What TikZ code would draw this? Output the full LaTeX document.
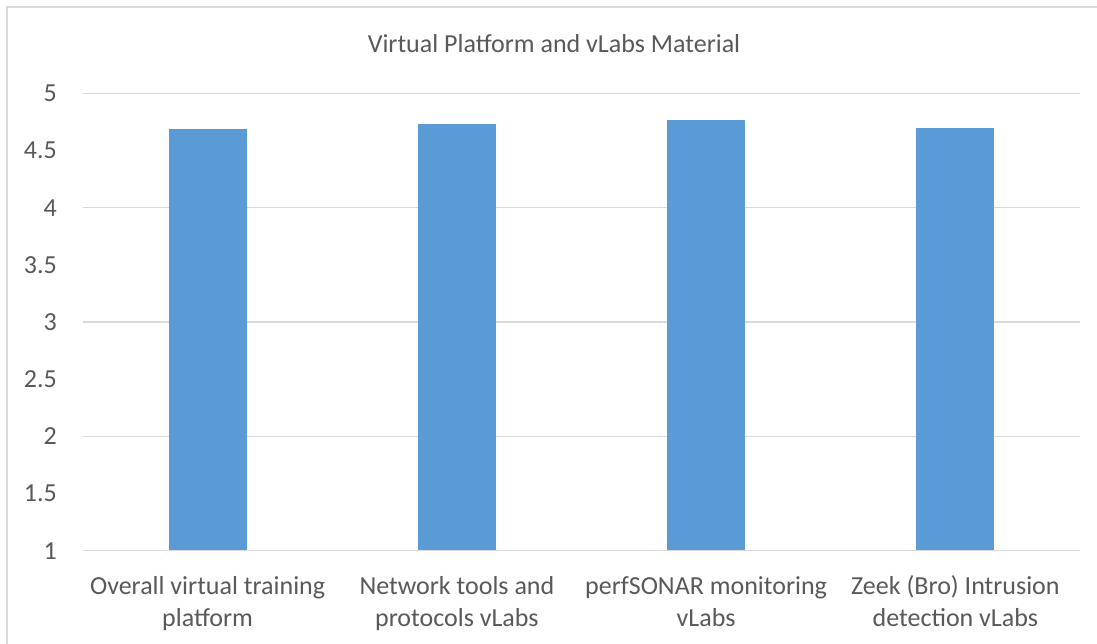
\documentclass[tikz,border=0pt]{standalone}
\usepackage{fontspec}
\setmainfont{Carlito}
\definecolor{barblue}{HTML}{5B9BD5}
\definecolor{gridgray}{HTML}{D9D9D9}
\definecolor{txtgray}{HTML}{595959}
\tikzset{
  gridline/.style={draw=gridgray, line width=1.4pt},
  framel/.style={draw=gridgray, line width=1.2pt},
  barfill/.style={fill=barblue},
  ylab/.style={anchor=base east, inner sep=0pt, text=txtgray, font=\fontsize{26}{31.5}\selectfont},
  xlab/.style={anchor=base, inner sep=0pt, align=center, text=txtgray, font=\fontsize{26}{31.5}\selectfont},
  ttl/.style={anchor=base, inner sep=0pt, text=txtgray, font=\fontsize{26}{31.5}\selectfont}
}
\begin{document}
\begin{tikzpicture}[x=1pt,y=-1pt]
\useasboundingbox (0,0) rectangle (1097,644);
\fill[white] (0,0) rectangle (1097,644);
% frame (left and top visible)
\coordinate (fb) at (7,644);
\coordinate (ft) at (7,7);
\coordinate (fr) at (1097,7);
\draw[framel] (fb) -- (ft) -- (fr);
% title
\node[ttl] (title) at (554,53) {Virtual Platform and vLabs Material};
% gridlines and y labels
\foreach \v/\lab in {1/1,1.5/1.5,2/2,2.5/2.5,3/3,3.5/3.5,4/4,4.5/4.5,5/5}{
  \pgfmathsetmacro{\yy}{550.7-(\v-1)*114.35}
  \coordinate (gl\lab) at (83,\yy);
  \coordinate (gr\lab) at (1080,\yy);
  \draw[gridline] (gl\lab) -- (gr\lab);
  \node[ylab] (yl\lab) at (57,\yy+8.4) {\lab};
}
% bars
\foreach \i/\c/\val in {1/207.6/4.685,2/456.9/4.73,3/706.1/4.764,4/955.4/4.70}{
  \pgfmathsetmacro{\top}{550.7-(\val-1)*114.35}
  \fill[barfill] (\c-39,\top) rectangle (\c+39,549.5);
}
% category labels
\node[xlab] (c1) at (207.6,626) {Overall virtual training\\platform};
\node[xlab] (c2) at (456.9,626) {Network tools and\\protocols vLabs};
\node[xlab] (c3) at (706.1,626) {perfSONAR monitoring\\vLabs};
\node[xlab] (c4) at (955.4,626) {Zeek (Bro) Intrusion\\detection vLabs};
\end{tikzpicture}
\end{document}
